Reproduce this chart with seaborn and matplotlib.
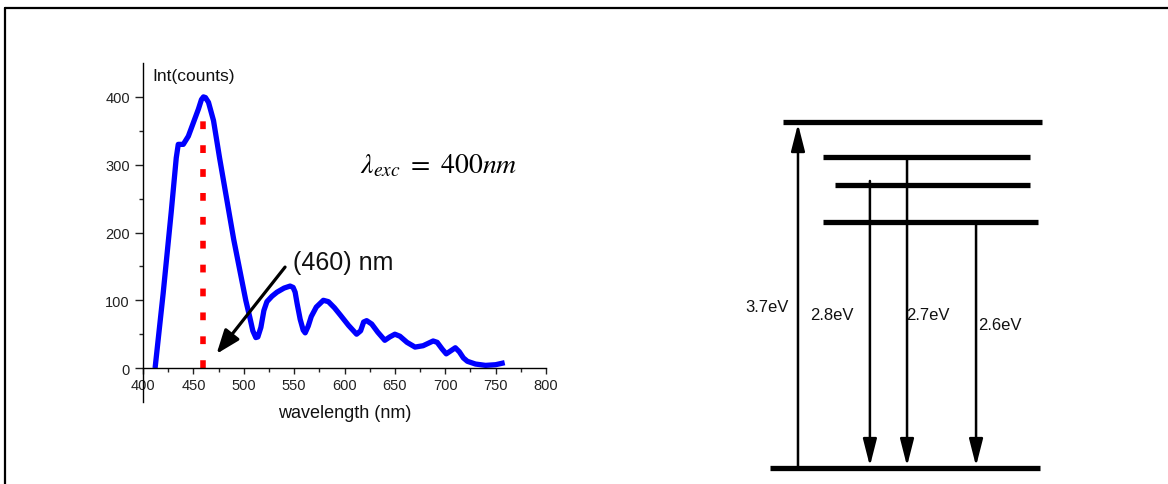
import numpy as np
import pandas as pd
import matplotlib
matplotlib.use('Agg')
import matplotlib.pyplot as plt
from matplotlib.lines import Line2D
from matplotlib.ticker import MultipleLocator
import seaborn as sns

sns.set_theme(style='ticks')
plt.rcParams['font.family'] = ['Liberation Sans', 'DejaVu Sans']
plt.rcParams['mathtext.fontset'] = 'stix'

# ---- spectrum ----
wavelength = [412, 420, 428, 433, 435, 440, 445, 450, 455, 458, 460, 462, 465, 470,
              476, 483, 490, 496, 502, 506, 509, 512, 514, 517, 520, 523, 528, 533,
              540, 546, 549, 551, 553, 556, 559, 561, 564, 567, 572, 579, 584, 590,
              596, 604, 612, 616, 619, 622, 627, 633, 640, 645, 650, 655, 662, 670,
              678, 688, 692, 697, 701, 705, 710, 714, 718, 722, 730, 740, 750, 759]
intensity = [0, 110, 230, 310, 330, 330, 342, 362, 382, 396, 400, 399, 392, 365,
             310, 250, 190, 145, 100, 75, 55, 45, 46, 60, 85, 98, 106, 112,
             118, 121, 119, 112, 95, 72, 56, 52, 62, 76, 90, 100, 98, 89,
             78, 63, 50, 55, 68, 70, 65, 53, 41, 46, 50, 47, 38, 31,
             33, 40, 38, 28, 21, 25, 30, 24, 15, 10, 6, 4, 5, 8]
peak_nm = 460
peak_label = '(460) nm'
exc_label = r'$\lambda_{exc}\ =\ 400nm$'

# ---- energy level diagram ----
level_energy = [0.0, 3.7, 3.33, 3.03, 2.63]
level_x0 = [0.034, 0.079, 0.217, 0.259, 0.217]
level_x1 = [0.966, 0.972, 0.931, 0.931, 0.959]
# transitions: x position, start, end, label
trans_x = [0.131, 0.379, 0.507, 0.745]
trans_from = [0.0, 3.07, 3.33, 2.63]
trans_to = [3.68, 0.02, 0.02, 0.02]
trans_label = ['3.7eV', '2.8eV', '2.7eV', '2.6eV']
trans_label_x = [-0.052, 0.172, 0.503, 0.752]
trans_label_y = [1.73, 1.64, 1.64, 1.54]

df = pd.DataFrame({'wavelength': wavelength, 'intensity': intensity})

fig = plt.figure(figsize=(11.68, 4.85), dpi=100)

# left panel: PL spectrum
ax = fig.add_axes([143 / 1168, 1 - 403 / 485, 403 / 1168, 339 / 485])
sns.lineplot(data=df, x='wavelength', y='intensity', sort=False, color='#0000ff',
             linewidth=3.8, ax=ax, solid_joinstyle='round', solid_capstyle='butt')
ax.plot([peak_nm, peak_nm], [0, 372], color='#ff0000', linewidth=4,
        linestyle=(0, (1.4, 2.9)))
ax.set_xlim(400, 800)
ax.set_ylim(-50, 450)
ax.spines['top'].set_visible(False)
ax.spines['right'].set_visible(False)
ax.spines['bottom'].set_position(('data', 0))
for s in ['left', 'bottom']:
    ax.spines[s].set_color('black')
    ax.spines[s].set_linewidth(1.0)
ax.set_xticks(np.arange(400, 801, 50))
ax.xaxis.set_minor_locator(MultipleLocator(25))
ax.set_yticks([0, 100, 200, 300, 400])
ax.set_yticks([50, 150, 250, 350], minor=True)
ax.tick_params(axis='x', which='major', direction='out', length=4, width=1,
               labelsize=10.5, colors='#222222', pad=3)
ax.tick_params(axis='x', which='minor', direction='out', length=3, width=1)
ax.tick_params(axis='y', which='major', direction='out', length=6, width=1,
               labelsize=10.5, colors='#222222')
ax.tick_params(axis='y', which='minor', direction='out', length=3, width=1)
ax.set_xlabel('wavelength (nm)', fontsize=13, color='#111111', labelpad=9)
ax.set_ylabel('')
ax.text(409, 432, 'Int(counts)', fontsize=12.5, ha='left', va='center', color='#111111')
ax.text(615, 289, exc_label, fontsize=20, ha='left', va='baseline', color='black')
ax.text(549, 156, peak_label, fontsize=18, ha='left', va='center', color='#111111')
ax.annotate('', xy=(473, 21), xytext=(541, 149),
            arrowprops=dict(arrowstyle='-|>,head_length=1.45,head_width=0.55',
                            mutation_scale=10, color='black', lw=2.3,
                            shrinkA=0, shrinkB=0))

# right panel: energy levels
ax2 = fig.add_axes([760 / 1168, 1 - 480 / 485, 290 / 1168, 370 / 485])
ax2.set_xlim(0, 1)
ax2.set_ylim(-0.118, 3.84)
ax2.axis('off')
for e, x0, x1 in zip(level_energy, level_x0, level_x1):
    ax2.plot([x0, x1], [e, e], color='black', linewidth=3.8, solid_capstyle='butt')
for x, e0, e1 in zip(trans_x, trans_from, trans_to):
    ax2.annotate('', xy=(x, e1), xytext=(x, e0),
                 arrowprops=dict(arrowstyle='-|>,head_length=1.65,head_width=0.42',
                                 mutation_scale=10, color='black', lw=1.8,
                                 shrinkA=0, shrinkB=0))
for lx, ly, t in zip(trans_label_x, trans_label_y, trans_label):
    ax2.text(lx, ly, t, fontsize=12, ha='left', va='center', color='#111111', clip_on=False)

# outer frame (top and left only)
fig.add_artist(Line2D([5 / 1168, 1], [1 - 9 / 485, 1 - 9 / 485], color='black', linewidth=1.6,
                      transform=fig.transFigure))
fig.add_artist(Line2D([5 / 1168, 5 / 1168], [0, 1 - 9 / 485], color='black', linewidth=1.6,
                      transform=fig.transFigure))

fig.savefig('out.png', dpi=100, facecolor='white')
